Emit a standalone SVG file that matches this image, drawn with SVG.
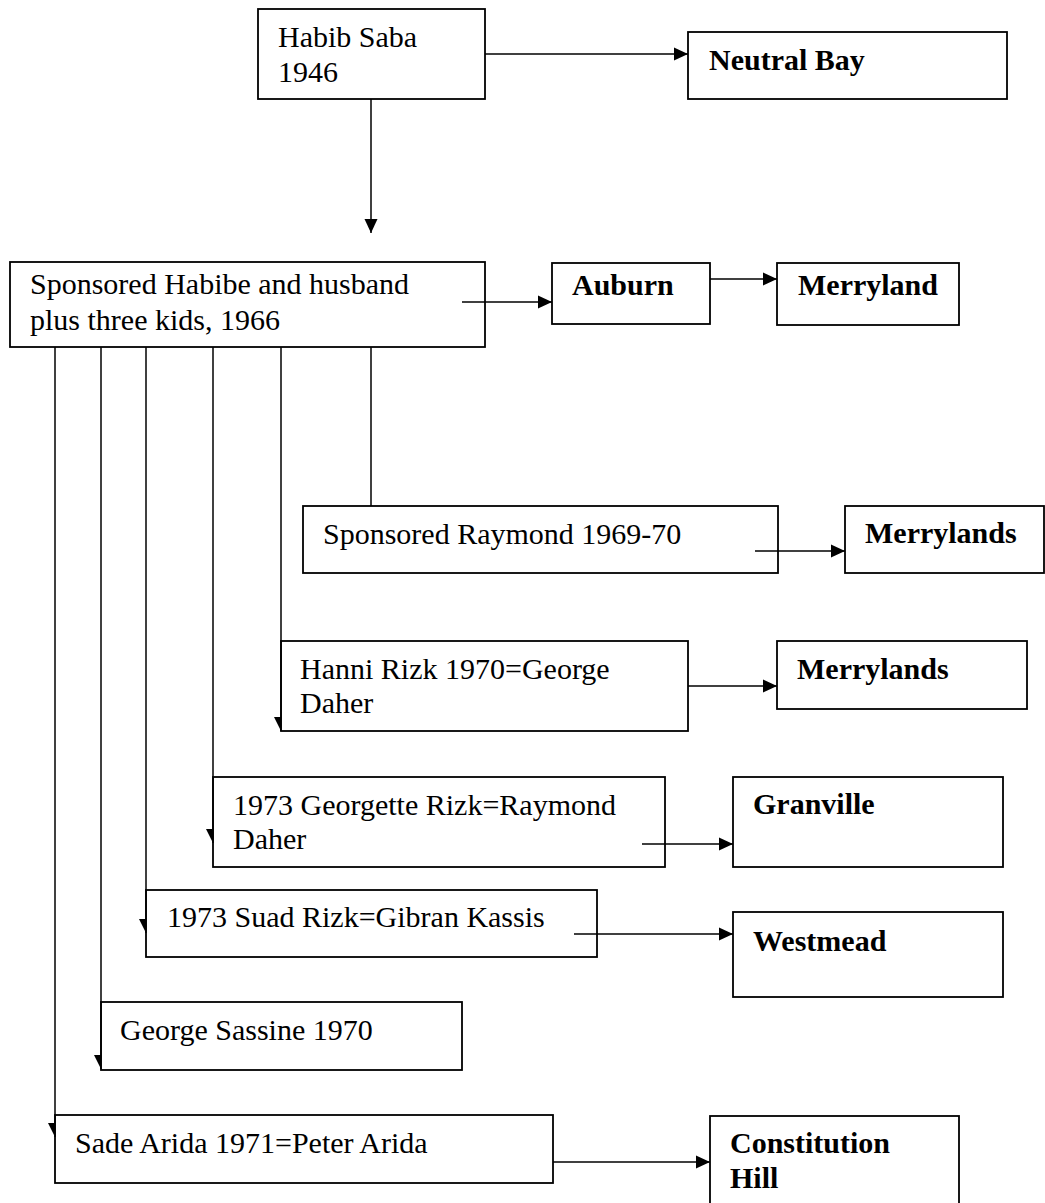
<svg xmlns="http://www.w3.org/2000/svg" width="1045" height="1203" viewBox="0 0 1045 1203">
<style>
.box{fill:#fff;stroke:#000;stroke-width:1.8}
.t{font-family:"Liberation Serif","Times New Roman",serif;font-size:30px;fill:#000}
.b{font-weight:bold}
.c{fill:none;stroke:#000;stroke-width:1.5}
</style>
<defs>
<marker id="arr" markerUnits="userSpaceOnUse" markerWidth="16" markerHeight="14" refX="14" refY="6.5" orient="auto" overflow="visible">
<path d="M0,0 L14,6.5 L0,13 Z" fill="#000"/>
</marker>
<marker id="half" markerUnits="userSpaceOnUse" markerWidth="16" markerHeight="10" refX="14" refY="0" orient="auto" overflow="visible">
<path d="M0,0 L14,0 L0,7 Z" fill="#000"/>
</marker>
</defs>
<rect width="1045" height="1203" fill="#fff"/>
<g id="habib"><rect class="box" x="258" y="9" width="227" height="90"/><text class="t" x="278" y="47">Habib Saba</text><text class="t" x="278" y="82">1946</text></g>
<g id="neutral-bay"><rect class="box" x="688" y="32" width="319" height="67"/><text class="t b" x="709" y="70">Neutral Bay</text></g>
<g id="sponsored"><rect class="box" x="10" y="262" width="475" height="85"/><text class="t" x="30" y="294">Sponsored Habibe and husband</text><text class="t" x="30" y="330">plus three kids, 1966</text></g>
<g id="auburn"><rect class="box" x="552" y="263" width="158" height="61"/><text class="t b" x="572" y="295">Auburn</text></g>
<g id="merryland"><rect class="box" x="777" y="263" width="182" height="62"/><text class="t b" x="798" y="295">Merryland</text></g>
<g id="raymond"><rect class="box" x="303" y="506" width="475" height="67"/><text class="t" x="323" y="544">Sponsored Raymond 1969-70</text></g>
<g id="merrylands-1"><rect class="box" x="845" y="506" width="199" height="67"/><text class="t b" x="865" y="543">Merrylands</text></g>
<g id="hanni"><rect class="box" x="281" y="641" width="407" height="90"/><text class="t" x="300" y="679">Hanni Rizk 1970=George</text><text class="t" x="300" y="713">Daher</text></g>
<g id="merrylands-2"><rect class="box" x="777" y="641" width="250" height="68"/><text class="t b" x="797" y="679">Merrylands</text></g>
<g id="georgette"><rect class="box" x="213" y="777" width="452" height="90"/><text class="t" x="233" y="815">1973 Georgette Rizk=Raymond</text><text class="t" x="233" y="849">Daher</text></g>
<g id="granville"><rect class="box" x="733" y="777" width="270" height="90"/><text class="t b" x="753" y="814">Granville</text></g>
<g id="suad"><rect class="box" x="146" y="890" width="451" height="67"/><text class="t" x="167" y="927">1973 Suad Rizk=Gibran Kassis</text></g>
<g id="westmead"><rect class="box" x="733" y="912" width="270" height="85"/><text class="t b" x="753" y="951">Westmead</text></g>
<g id="sassine"><rect class="box" x="101" y="1002" width="361" height="68"/><text class="t" x="120" y="1040">George Sassine 1970</text></g>
<g id="sade"><rect class="box" x="55" y="1115" width="498" height="68"/><text class="t" x="75" y="1153">Sade Arida 1971=Peter Arida</text></g>
<g id="constitution-hill"><rect class="box" x="710" y="1116" width="249" height="100"/><text class="t b" x="730" y="1153">Constitution</text><text class="t b" x="730" y="1188">Hill</text></g>
<g id="connectors">
<path class="c" d="M485,54 H688" marker-end="url(#arr)"/>
<path class="c" d="M371,99 V233" marker-end="url(#arr)"/>
<path class="c" d="M462,302 H552" marker-end="url(#arr)"/>
<path class="c" d="M710,279 H777" marker-end="url(#arr)"/>
<path class="c" d="M755,551 H845" marker-end="url(#arr)"/>
<path class="c" d="M688,686 H777" marker-end="url(#arr)"/>
<path class="c" d="M642,844 H733" marker-end="url(#arr)"/>
<path class="c" d="M574,934 H733" marker-end="url(#arr)"/>
<path class="c" d="M553,1162 H710" marker-end="url(#arr)"/>
<path class="c" d="M371,347 V506"/>
<path class="c" d="M281,347 V731" marker-end="url(#half)"/>
<path class="c" d="M213,347 V843" marker-end="url(#half)"/>
<path class="c" d="M146,347 V933" marker-end="url(#half)"/>
<path class="c" d="M101,347 V1069" marker-end="url(#half)"/>
<path class="c" d="M55,347 V1137" marker-end="url(#half)"/>
</g>
</svg>
